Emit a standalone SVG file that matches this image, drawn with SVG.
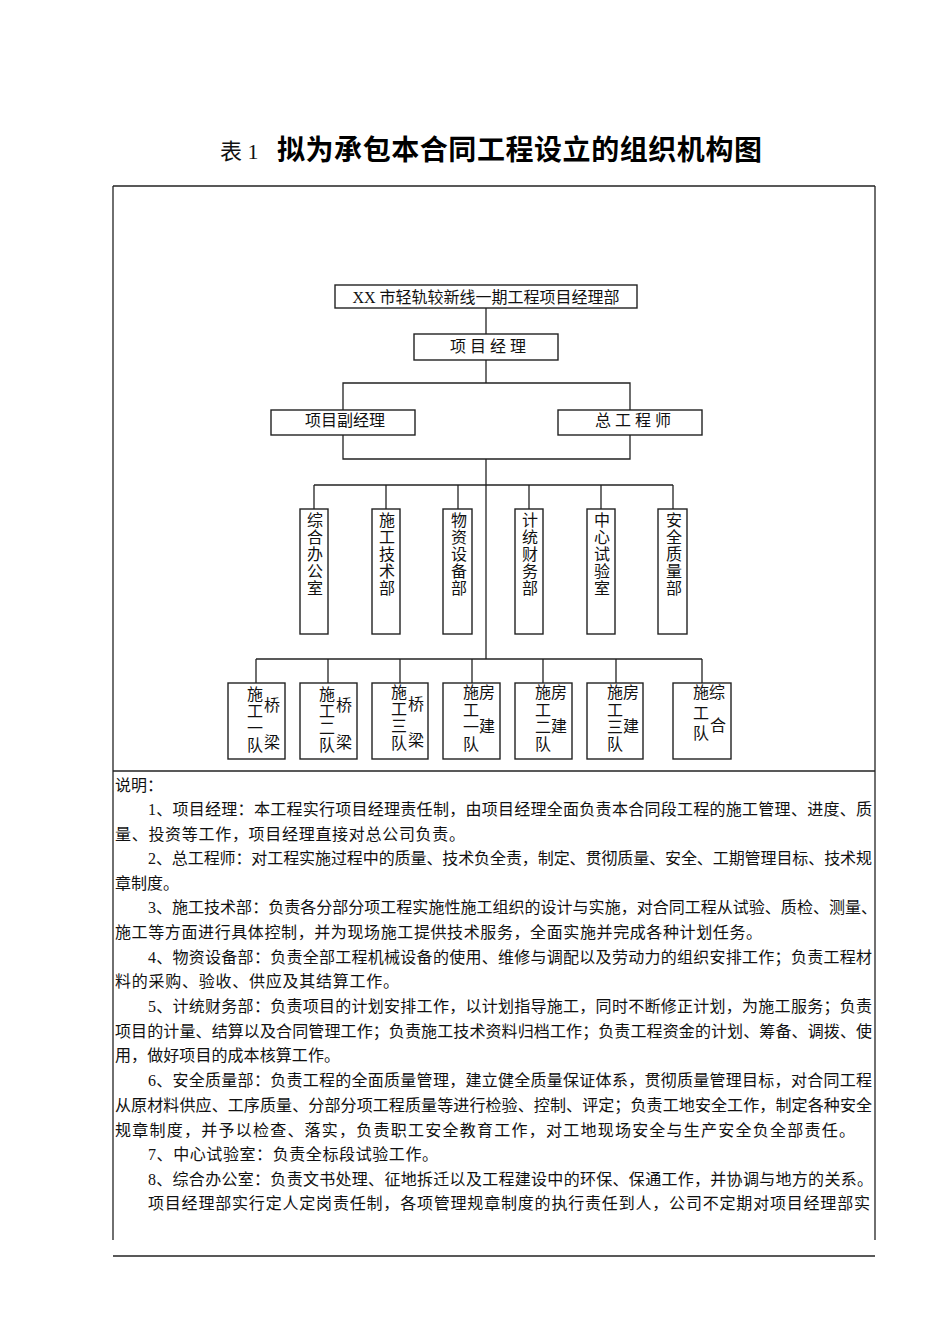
<svg xmlns="http://www.w3.org/2000/svg" width="950" height="1344" viewBox="0 0 950 1344">
<style>
.bx{fill:#fff;stroke:#222;stroke-width:1.4}
.ln{fill:none;stroke:#222;stroke-width:1.3}
.t{font-family:"Liberation Serif","Noto Sans CJK SC",serif;font-size:16px;fill:#111}
.c{text-anchor:middle}
.b{font-family:"Liberation Serif","Noto Sans CJK SC",serif;font-size:16px;fill:#111}
</style>
<rect width="950" height="1344" fill="#fff"/>
<g id="title">
<text x="220" y="159" font-family="Liberation Serif,Noto Sans CJK SC,serif" font-size="22" fill="#111">表 1</text>
<text x="277" y="160" font-family="Noto Sans CJK SC,sans-serif" font-size="28" font-weight="bold" fill="#000" textLength="485" lengthAdjust="spacing">拟为承包本合同工程设立的组织机构图</text>
</g>
<g id="frame" class="ln">
<line x1="113" y1="186" x2="875" y2="186"/>
<line x1="113" y1="186" x2="113" y2="1240"/>
<line x1="875" y1="186" x2="875" y2="1240"/>
<line x1="113" y1="771" x2="875" y2="771"/>
<line x1="113" y1="1256" x2="875" y2="1256" stroke-width="1.6"/>
</g>
<g id="connectors" class="ln">
<line x1="486" y1="308" x2="486" y2="334"/>
<line x1="486" y1="360" x2="486" y2="383"/>
<polyline points="343,410 343,383 630,383 630,410"/>
<polyline points="343,435 343,459 630,459 630,435"/>
<line x1="486" y1="459" x2="486" y2="659"/>
<line x1="314" y1="485" x2="673" y2="485"/>
<line x1="314" y1="485" x2="314" y2="509"/>
<line x1="386" y1="485" x2="386" y2="509"/>
<line x1="458" y1="485" x2="458" y2="509"/>
<line x1="529" y1="485" x2="529" y2="509"/>
<line x1="601" y1="485" x2="601" y2="509"/>
<line x1="673" y1="485" x2="673" y2="509"/>
<line x1="256" y1="659" x2="702" y2="659"/>
<line x1="256" y1="659" x2="256" y2="683"/>
<line x1="328" y1="659" x2="328" y2="683"/>
<line x1="400" y1="659" x2="400" y2="683"/>
<line x1="472" y1="659" x2="472" y2="683"/>
<line x1="543" y1="659" x2="543" y2="683"/>
<line x1="616" y1="659" x2="616" y2="683"/>
<line x1="702" y1="659" x2="702" y2="683"/>
</g>
<g id="n-top"><rect class="bx" x="335" y="285" width="302" height="23"/><text class="t c" x="486" y="303">XX 市轻轨较新线一期工程项目经理部</text></g>
<g id="n-pm"><rect class="bx" x="414" y="334" width="144" height="26"/><text class="t c" x="488" y="352" font-size="15">项 目 经 理</text></g>
<g id="n-dpm"><rect class="bx" x="271" y="410" width="144" height="25"/><text class="t c" x="345" y="426" font-size="15.5">项目副经理</text></g>
<g id="n-ce"><rect class="bx" x="558" y="410" width="144" height="25"/><text class="t c" x="633" y="426" font-size="15">总 工 程 师</text></g>
<g id="d1"><rect class="bx" x="300" y="509" width="28" height="125"/><text class="t c"><tspan x="315" y="526">综</tspan><tspan x="315" y="543">合</tspan><tspan x="315" y="560">办</tspan><tspan x="315" y="577">公</tspan><tspan x="315" y="594">室</tspan></text></g>
<g id="d2"><rect class="bx" x="372" y="509" width="28" height="125"/><text class="t c"><tspan x="387" y="526">施</tspan><tspan x="387" y="543">工</tspan><tspan x="387" y="560">技</tspan><tspan x="387" y="577">术</tspan><tspan x="387" y="594">部</tspan></text></g>
<g id="d3"><rect class="bx" x="443" y="509" width="29" height="125"/><text class="t c"><tspan x="459" y="526">物</tspan><tspan x="459" y="543">资</tspan><tspan x="459" y="560">设</tspan><tspan x="459" y="577">备</tspan><tspan x="459" y="594">部</tspan></text></g>
<g id="d4"><rect class="bx" x="515" y="509" width="28" height="125"/><text class="t c"><tspan x="530" y="526">计</tspan><tspan x="530" y="543">统</tspan><tspan x="530" y="560">财</tspan><tspan x="530" y="577">务</tspan><tspan x="530" y="594">部</tspan></text></g>
<g id="d5"><rect class="bx" x="587" y="509" width="28" height="125"/><text class="t c"><tspan x="602" y="526">中</tspan><tspan x="602" y="543">心</tspan><tspan x="602" y="560">试</tspan><tspan x="602" y="577">验</tspan><tspan x="602" y="594">室</tspan></text></g>
<g id="d6"><rect class="bx" x="658" y="509" width="29" height="125"/><text class="t c"><tspan x="674" y="526">安</tspan><tspan x="674" y="543">全</tspan><tspan x="674" y="560">质</tspan><tspan x="674" y="577">量</tspan><tspan x="674" y="594">部</tspan></text></g>
<g id="t1"><rect class="bx" x="228" y="683" width="57" height="76"/><text class="t c"><tspan x="255" y="700">施</tspan><tspan x="255" y="717">工</tspan><tspan x="255" y="734">一</tspan><tspan x="255" y="751">队</tspan><tspan x="272" y="711">桥</tspan><tspan x="272" y="748">梁</tspan></text></g>
<g id="t2"><rect class="bx" x="300" y="683" width="57" height="76"/><text class="t c"><tspan x="327" y="700">施</tspan><tspan x="327" y="717">工</tspan><tspan x="327" y="734">二</tspan><tspan x="327" y="751">队</tspan><tspan x="344" y="711">桥</tspan><tspan x="344" y="748">梁</tspan></text></g>
<g id="t3"><rect class="bx" x="372" y="683" width="56" height="76"/><text class="t c"><tspan x="399" y="698">施</tspan><tspan x="399" y="715">工</tspan><tspan x="399" y="732">三</tspan><tspan x="399" y="749">队</tspan><tspan x="416" y="710">桥</tspan><tspan x="416" y="746">梁</tspan></text></g>
<g id="t4"><rect class="bx" x="443" y="683" width="57" height="76"/><text class="t c"><tspan x="471" y="698">施</tspan><tspan x="471" y="716">工</tspan><tspan x="471" y="733">一</tspan><tspan x="471" y="750">队</tspan><tspan x="487" y="698">房</tspan><tspan x="487" y="732">建</tspan></text></g>
<g id="t5"><rect class="bx" x="515" y="683" width="57" height="76"/><text class="t c"><tspan x="543" y="698">施</tspan><tspan x="543" y="716">工</tspan><tspan x="543" y="733">二</tspan><tspan x="543" y="750">队</tspan><tspan x="559" y="698">房</tspan><tspan x="559" y="732">建</tspan></text></g>
<g id="t6"><rect class="bx" x="587" y="683" width="56" height="76"/><text class="t c"><tspan x="615" y="698">施</tspan><tspan x="615" y="716">工</tspan><tspan x="615" y="733">三</tspan><tspan x="615" y="750">队</tspan><tspan x="631" y="698">房</tspan><tspan x="631" y="732">建</tspan></text></g>
<g id="t7"><rect class="bx" x="673" y="683" width="58" height="76"/><text class="t c"><tspan x="701" y="698">施</tspan><tspan x="701" y="719">工</tspan><tspan x="701" y="739">队</tspan><tspan x="717" y="698">综</tspan><tspan x="718" y="731">合</tspan></text></g>
<g id="notes">
<text class="b" x="115" y="791">说明：</text>
<text class="b" x="148" y="815" textLength="724" lengthAdjust="spacing">1、项目经理：本工程实行项目经理责任制，由项目经理全面负责本合同段工程的施工管理、进度、质</text>
<text class="b" x="115" y="840" textLength="350" lengthAdjust="spacing">量、投资等工作，项目经理直接对总公司负责。</text>
<text class="b" x="148" y="864" textLength="724" lengthAdjust="spacing">2、总工程师：对工程实施过程中的质量、技术负全责，制定、贯彻质量、安全、工期管理目标、技术规</text>
<text class="b" x="115" y="889">章制度。</text>
<text class="b" x="148" y="913" textLength="729" lengthAdjust="spacing">3、施工技术部：负责各分部分项工程实施性施工组织的设计与实施，对合同工程从试验、质检、测量、</text>
<text class="b" x="115" y="938" textLength="647" lengthAdjust="spacing">施工等方面进行具体控制，并为现场施工提供技术服务，全面实施并完成各种计划任务。</text>
<text class="b" x="148" y="963" textLength="724" lengthAdjust="spacing">4、物资设备部：负责全部工程机械设备的使用、维修与调配以及劳动力的组织安排工作；负责工程材</text>
<text class="b" x="115" y="987" textLength="284" lengthAdjust="spacing">料的采购、验收、供应及其结算工作。</text>
<text class="b" x="148" y="1012" textLength="724" lengthAdjust="spacing">5、计统财务部：负责项目的计划安排工作，以计划指导施工，同时不断修正计划，为施工服务；负责</text>
<text class="b" x="115" y="1037" textLength="757" lengthAdjust="spacing">项目的计量、结算以及合同管理工作；负责施工技术资料归档工作；负责工程资金的计划、筹备、调拨、使</text>
<text class="b" x="115" y="1061" textLength="225" lengthAdjust="spacing">用，做好项目的成本核算工作。</text>
<text class="b" x="148" y="1086" textLength="724" lengthAdjust="spacing">6、安全质量部：负责工程的全面质量管理，建立健全质量保证体系，贯彻质量管理目标，对合同工程</text>
<text class="b" x="115" y="1111" textLength="757" lengthAdjust="spacing">从原材料供应、工序质量、分部分项工程质量等进行检验、控制、评定；负责工地安全工作，制定各种安全</text>
<text class="b" x="115" y="1136" textLength="740" lengthAdjust="spacing">规章制度，并予以检查、落实，负责职工安全教育工作，对工地现场安全与生产安全负全部责任。</text>
<text class="b" x="148" y="1160" textLength="290" lengthAdjust="spacing">7、中心试验室：负责全标段试验工作。</text>
<text class="b" x="148" y="1185" textLength="725" lengthAdjust="spacing">8、综合办公室：负责文书处理、征地拆迁以及工程建设中的环保、保通工作，并协调与地方的关系。</text>
<text class="b" x="148" y="1209" textLength="722" lengthAdjust="spacing">项目经理部实行定人定岗责任制，各项管理规章制度的执行责任到人，公司不定期对项目经理部实</text>
</g>
</svg>
